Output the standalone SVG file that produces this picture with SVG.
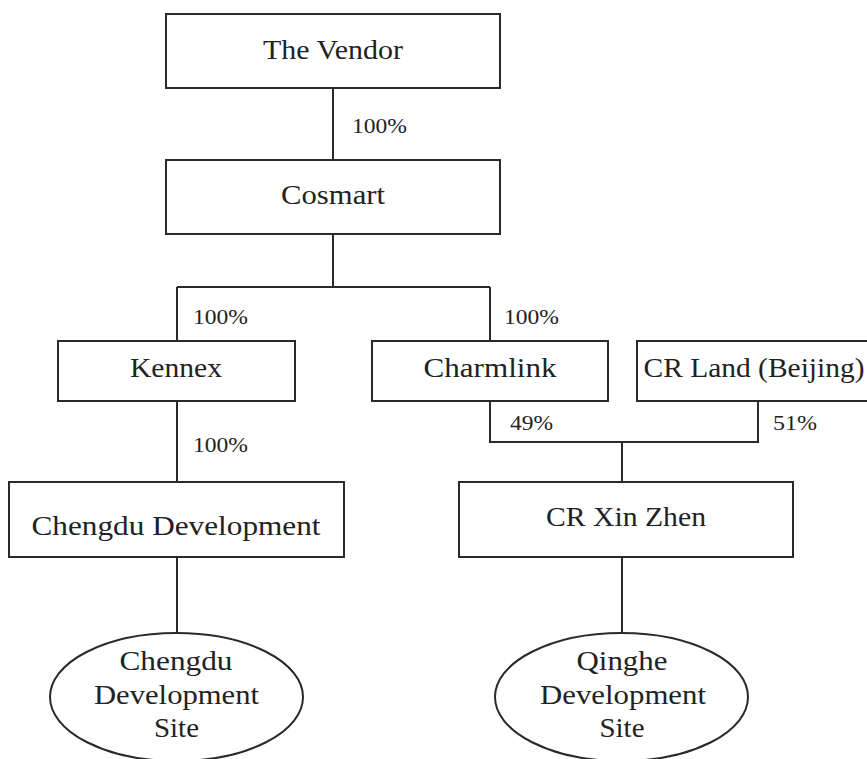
<svg xmlns="http://www.w3.org/2000/svg" width="867" height="759" viewBox="0 0 867 759">
<style>
.box{fill:#fff;stroke:#2a2a2a;stroke-width:2}
.ln{fill:none;stroke:#2a2a2a;stroke-width:2}
.t{font-family:"Liberation Serif","DejaVu Serif",serif;font-size:28px;fill:#222;text-anchor:middle}
.p{font-family:"Liberation Serif","DejaVu Serif",serif;font-size:20px;fill:#222}
</style>
<rect width="867" height="759" fill="#fff"/>
<g id="connectors">
<line class="ln" x1="333" y1="88" x2="333" y2="160"/>
<path class="ln" d="M333 234 V287 M177 287 H490 M177 287 V341 M490 287 V341"/>
<line class="ln" x1="177" y1="401" x2="177" y2="482"/>
<path class="ln" d="M490 401 V442 H758 V401 M622 442 V482"/>
<line class="ln" x1="177" y1="557" x2="177" y2="633"/>
<line class="ln" x1="622" y1="557" x2="622" y2="633"/>
<text class="p" x="352" y="133" textLength="55" lengthAdjust="spacingAndGlyphs">100%</text>
<text class="p" x="193" y="324" textLength="55" lengthAdjust="spacingAndGlyphs">100%</text>
<text class="p" x="504" y="324" textLength="55" lengthAdjust="spacingAndGlyphs">100%</text>
<text class="p" x="193" y="452" textLength="55" lengthAdjust="spacingAndGlyphs">100%</text>
<text class="p" x="510" y="430" textLength="43" lengthAdjust="spacingAndGlyphs">49%</text>
<text class="p" x="773" y="430" textLength="44" lengthAdjust="spacingAndGlyphs">51%</text>
</g>
<g id="vendor">
<rect class="box" x="166" y="14" width="334" height="74"/>
<text class="t" x="333" y="59" textLength="140" lengthAdjust="spacingAndGlyphs">The Vendor</text>
</g>
<g id="cosmart">
<rect class="box" x="166" y="160" width="334" height="74"/>
<text class="t" x="333" y="204" textLength="104" lengthAdjust="spacingAndGlyphs">Cosmart</text>
</g>
<g id="kennex">
<rect class="box" x="58" y="341" width="237" height="60"/>
<text class="t" x="176" y="377" textLength="92" lengthAdjust="spacingAndGlyphs">Kennex</text>
</g>
<g id="charmlink">
<rect class="box" x="372" y="341" width="236" height="60"/>
<text class="t" x="490" y="377" textLength="133" lengthAdjust="spacingAndGlyphs">Charmlink</text>
</g>
<g id="crland">
<rect class="box" x="637" y="341" width="240" height="60"/>
<text class="t" x="754" y="377" textLength="221" lengthAdjust="spacingAndGlyphs">CR Land (Beijing)</text>
</g>
<g id="chengdu-dev">
<rect class="box" x="9" y="482" width="335" height="75"/>
<text class="t" x="176" y="535" textLength="289" lengthAdjust="spacingAndGlyphs">Chengdu Development</text>
</g>
<g id="crxinzhen">
<rect class="box" x="459" y="482" width="334" height="75"/>
<text class="t" x="626" y="526" textLength="160" lengthAdjust="spacingAndGlyphs">CR Xin Zhen</text>
</g>
<g id="chengdu-site">
<ellipse class="box" cx="176.5" cy="697" rx="126.5" ry="64"/>
<text class="t" x="176" y="670" textLength="113" lengthAdjust="spacingAndGlyphs">Chengdu</text>
<text class="t" x="176.5" y="704" textLength="165" lengthAdjust="spacingAndGlyphs">Development</text>
<text class="t" x="176.5" y="737" textLength="45" lengthAdjust="spacingAndGlyphs">Site</text>
</g>
<g id="qinghe-site">
<ellipse class="box" cx="621.5" cy="697" rx="126.5" ry="64"/>
<text class="t" x="622" y="670" textLength="91" lengthAdjust="spacingAndGlyphs">Qinghe</text>
<text class="t" x="623" y="704" textLength="166" lengthAdjust="spacingAndGlyphs">Development</text>
<text class="t" x="622" y="737" textLength="45" lengthAdjust="spacingAndGlyphs">Site</text>
</g>
</svg>
